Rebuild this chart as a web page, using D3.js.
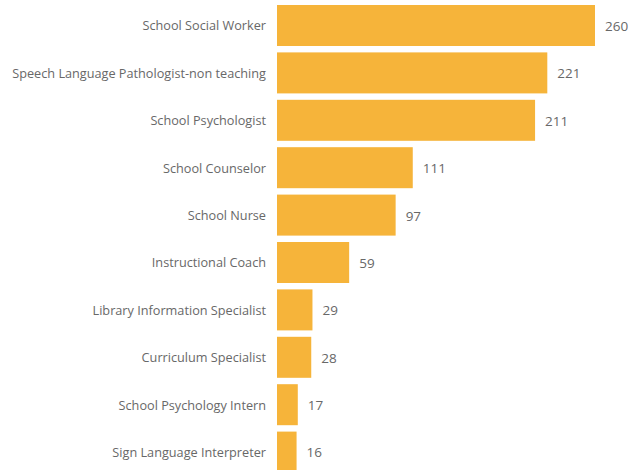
<!DOCTYPE html>
<html>
<head>
<meta charset="utf-8">
<script src="https://cdn.jsdelivr.net/npm/d3@7"></script>
<style>
  html, body { margin: 0; padding: 0; background: #ffffff; }
  svg { display: block; }
  text { font-family: "Open Sans", "Segoe UI", sans-serif; }
</style>
</head>
<body>
<svg id="chart" width="631" height="470"></svg>
<script>
// Staff counts by role
const categories = [
  "School Social Worker",
  "Speech Language Pathologist-non teaching",
  "School Psychologist",
  "School Counselor",
  "School Nurse",
  "Instructional Coach",
  "Library Information Specialist",
  "Curriculum Specialist",
  "School Psychology Intern",
  "Sign Language Interpreter"
];
const values = [260, 221, 211, 111, 97, 59, 29, 28, 17, 16];

const barColor = "#F6B43A";
const textColor = "#686868";

const svg = d3.select("#chart");

const x = d3.scaleLinear()
  .domain([0, 260])
  .range([277, 595]);

const y = d3.scaleBand()
  .domain(categories)
  .range([5, 5 + 47.4 * categories.length - 6.4])
  .paddingInner(0.135)
  .paddingOuter(0);

const data = categories.map((c, i) => ({ cat: c, val: values[i] }));

// Bars
svg.append("g")
  .selectAll("rect")
  .data(data)
  .join("rect")
  .attr("x", x(0))
  .attr("y", d => y(d.cat))
  .attr("width", d => x(d.val) - x(0))
  .attr("height", y.bandwidth())
  .attr("fill", barColor);

// Category axis on the left, without domain line or ticks
const yAxis = svg.append("g")
  .attr("transform", `translate(${x(0) - 11},0)`)
  .call(d3.axisLeft(y).tickSize(0).tickPadding(0));
yAxis.select(".domain").remove();
yAxis.selectAll("text")
  .attr("fill", textColor)
  .attr("dy", "0.38em")
  .style("font-size", "12.7px")
  .style("font-family", "'Open Sans', 'Segoe UI', sans-serif");

// Value labels at the end of each bar
svg.append("g")
  .selectAll("text")
  .data(data)
  .join("text")
  .attr("x", d => x(d.val) + 10)
  .attr("y", d => y(d.cat) + y.bandwidth() / 2)
  .attr("dy", "0.4em")
  .attr("fill", textColor)
  .style("font-size", "13.5px")
  .text(d => d.val);
</script>
</body>
</html>
